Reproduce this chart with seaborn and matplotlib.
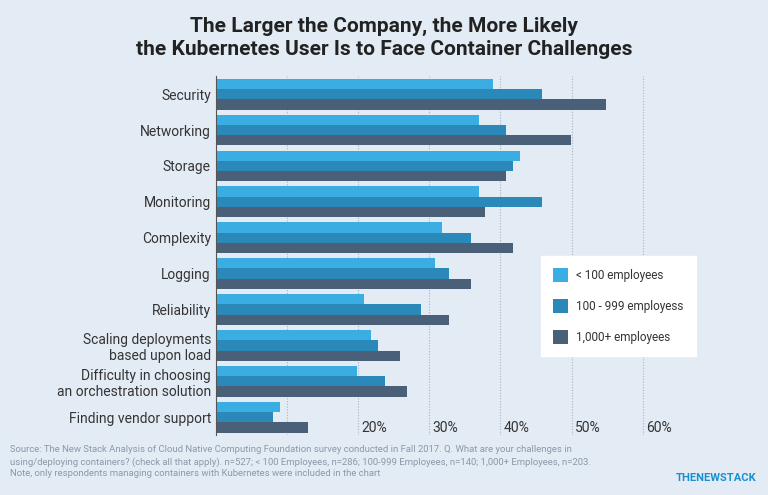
import matplotlib
matplotlib.use("Agg")
import matplotlib.pyplot as plt
import seaborn as sns
import pandas as pd

categories = ["Security", "Networking", "Storage", "Monitoring", "Complexity", "Logging",
              "Reliability", "Scaling deployments\nbased upon load",
              "Difficulty in choosing\nan orchestration solution", "Finding vendor support"]
series = ["< 100 employees", "100 - 999 employess", "1,000+ employees"]
small = [39, 37, 42.8, 37, 31.8, 30.8, 20.8, 21.8, 19.9, 9]
mid = [45.9, 40.8, 41.8, 45.9, 35.9, 32.8, 28.9, 22.8, 23.8, 8]
large = [54.8, 49.9, 40.8, 37.9, 41.8, 35.9, 32.8, 25.9, 26.9, 13]
colors = ["#3aade2", "#2a89b8", "#4a6079"]

rows = []
for s, vals in zip(series, [small, mid, large]):
    for c, v in zip(categories, vals):
        rows.append({"cat": c, "series": s, "val": v})
df = pd.DataFrame(rows)

bg = "#e3ebf5"
fig = plt.figure(figsize=(7.68, 4.95), dpi=100, facecolor=bg)
ax = fig.add_axes([0.281, 0.121, 0.63, 0.725], facecolor=bg)
sns.barplot(data=df, y="cat", x="val", hue="series", palette=colors, orient="h",
            width=0.86, saturation=1, ax=ax, edgecolor="none", legend=True)
ax.set_xlim(0, 68)
ax.set_ylim(9.5, -0.5)
for v in range(10, 70, 10):
    ax.axvline(v, color="#a9b3bf", ls=(0, (1, 1.5)), lw=0.8, zorder=0)
ax.set_xticks([])
for v in range(20, 70, 10):
    ax.text(v + 0.5, 9.5, f"{v}%", ha="left", va="bottom", fontsize=10, color="#333", family="Roboto")
ax.set_xlabel(""); ax.set_ylabel("")
ax.tick_params(axis="y", length=0, labelsize=10, colors="#333")
for t in ax.get_yticklabels():
    t.set_family("Roboto"); t.set_ha("right")
for s in ["top", "right", "bottom"]:
    ax.spines[s].set_visible(False)
ax.spines["left"].set_color("#555")
leg = ax.legend(loc="center left", bbox_to_anchor=(0.66, 0.36), frameon=True, fancybox=False,
                facecolor="white", edgecolor="white", fontsize=8.5, handlelength=1.3,
                handleheight=1.5, labelspacing=1.4, borderpad=1.0, handletextpad=0.7, framealpha=1)
for t in leg.get_texts():
    t.set_family("Roboto"); t.set_color("#333")

fig.text(0.5, 0.965, "The Larger the Company, the More Likely\nthe Kubernetes User Is to Face Container Challenges",
         ha="center", va="top", fontsize=15, fontweight="bold", family="Roboto", color="#222", linespacing=1.25)
fig.text(0.013, 0.1, "Source: The New Stack Analysis of Cloud Native Computing Foundation survey conducted in Fall 2017. Q. What are your challenges in\n"
         "using/deploying containers? (check all that apply). n=527; < 100 Employees, n=286; 100-999 Employees, n=140; 1,000+ Employees, n=203.\n"
         "Note, only respondents managing containers with Kubernetes were included in the chart",
         ha="left", va="top", fontsize=6.8, color="#8a98a8", family="Roboto", linespacing=1.35)
fig.text(0.985, 0.025, "THENEWSTACK", ha="right", va="bottom", fontsize=8, fontweight="bold", color="#1a8fd0", family="Roboto")
fig.savefig("out.png", dpi=100, facecolor=bg)
